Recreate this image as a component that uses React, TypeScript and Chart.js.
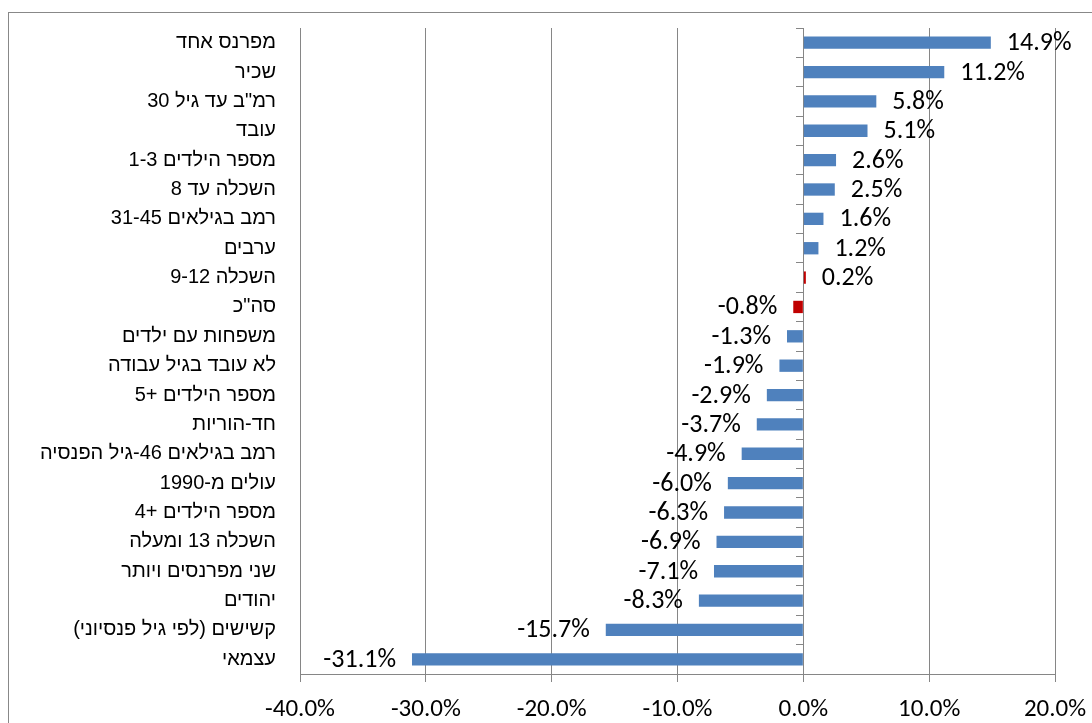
import React, { useEffect, useRef } from "react";
import { Chart, registerables } from "chart.js";

Chart.register(...registerables);

const categories: string[] = [
  "מפרנס אחד",
  "שכיר",
  'רמ"ב עד גיל 30',
  "עובד",
  "מספר הילדים 1-3",
  "השכלה עד 8",
  "רמב בגילאים 31-45",
  "ערבים",
  "השכלה 9-12",
  'סה"כ',
  "משפחות עם ילדים",
  "לא עובד בגיל עבודה",
  "מספר הילדים +5",
  "חד-הוריות",
  "רמב בגילאים 46-גיל הפנסיה",
  "עולים מ-1990",
  "מספר הילדים +4",
  "השכלה 13 ומעלה",
  "שני מפרנסים ויותר",
  "יהודים",
  "קשישים (לפי גיל פנסיוני)",
  "עצמאי",
];

const values: number[] = [
  14.9, 11.2, 5.8, 5.1, 2.6, 2.5, 1.6, 1.2, 0.2, -0.8, -1.3, -1.9, -2.9, -3.7,
  -4.9, -6.0, -6.3, -6.9, -7.1, -8.3, -15.7, -31.1,
];

const highlighted: string[] = ["השכלה 9-12", 'סה"כ'];

const xTicks: number[] = [-40, -30, -20, -10, 0, 10, 20];

const BLUE = "#4F81BD";
const RED = "#C00000";
const GRAY = "#868686";
const NUM_FONT = "Carlito, Calibri, 'Liberation Sans Narrow', sans-serif";

const RLM = "\u200F";

const dataLabelPlugin = {
  id: "barValueLabels",
  afterDatasetsDraw(chart: any) {
    const ctx = chart.ctx;
    const meta = chart.getDatasetMeta(0);
    const ds = chart.data.datasets[0];
    ctx.save();
    ctx.font = `26px ${NUM_FONT}`;
    ctx.fillStyle = "#000";
    ctx.textBaseline = "middle";
    meta.data.forEach((el: any, i: number) => {
      const v = ds.data[i] as number;
      const txt = v.toFixed(1) + "%";
      if (v >= 0) {
        ctx.textAlign = "left";
        ctx.fillText(txt, el.x + 16, el.y + 1);
      } else {
        ctx.textAlign = "right";
        ctx.fillText(txt, el.x - 16, el.y + 1);
      }
    });
    ctx.restore();
  },
};

export default function App() {
  const ref = useRef<HTMLCanvasElement | null>(null);

  useEffect(() => {
    if (!ref.current) return;
    const labels = categories.map((c) => (c.endsWith(")") ? c + RLM : c));
    const colors = categories.map((c) => (highlighted.includes(c) ? RED : BLUE));
    const chart = new Chart(ref.current, {
      type: "bar",
      data: {
        labels,
        datasets: [
          {
            data: values,
            backgroundColor: colors,
            borderWidth: 0,
            barPercentage: 0.42,
            categoryPercentage: 1,
          },
        ],
      },
      plugins: [dataLabelPlugin],
      options: {
        indexAxis: "y",
        responsive: false,
        animation: false,
        layout: { padding: { top: 15, right: 37, bottom: 0, left: 0 } },
        plugins: {
          legend: { display: false },
          tooltip: { enabled: false },
        },
        scales: {
          x: {
            type: "linear",
            min: -40,
            max: 20,
            afterBuildTicks: (scale: any) => {
              scale.ticks = xTicks.map((v) => ({ value: v }));
            },
            afterFit: (scale: any) => {
              scale.height = 49;
              scale.paddingLeft = 0;
              scale.paddingRight = 0;
            },
            grid: {
              color: GRAY,
              lineWidth: 1,
              drawTicks: true,
              tickLength: 8,
            },
            border: { display: true, color: GRAY, width: 1 },
            ticks: {
              padding: 13,
              color: "#000",
              font: { family: NUM_FONT, size: 25 },
              maxRotation: 0,
              callback: (v: any) => Number(v).toFixed(1) + "%",
            },
          },
          y: {
            type: "category",
            offset: true,
            afterFit: (scale: any) => {
              scale.width = 291;
              scale.paddingTop = 0;
              scale.paddingBottom = 0;
            },
            grid: { display: false, drawTicks: false },
            border: { display: false },
            ticks: {
              padding: 24,
              color: "#000",
              font: { family: "'Liberation Sans', Arial, sans-serif", size: 20 },
              autoSkip: false,
            },
          },
          y2: {
            type: "category",
            axis: "y",
            position: { x: 0 },
            offset: true,
            afterFit: (scale: any) => {
              scale.paddingTop = 0;
              scale.paddingBottom = 0;
            },
            grid: {
              offset: true,
              drawOnChartArea: false,
              drawTicks: true,
              tickLength: 7,
              color: GRAY,
              lineWidth: 1,
            },
            border: { display: true, color: GRAY, width: 1 },
            ticks: { display: false },
          },
        } as any,
      },
    } as any);
    return () => chart.destroy();
  }, []);

  return (
    <div
      style={{
        position: "absolute",
        left: 8,
        top: 12,
        width: 1083,
        height: 710,
        borderLeft: "1px solid #888",
        borderTop: "1px solid #888",
        background: "#fff",
      }}
    >
      <canvas
        ref={ref}
        width={1083}
        height={710}
        style={{ display: "block", width: 1083, height: 710 }}
      />
    </div>
  );
}
